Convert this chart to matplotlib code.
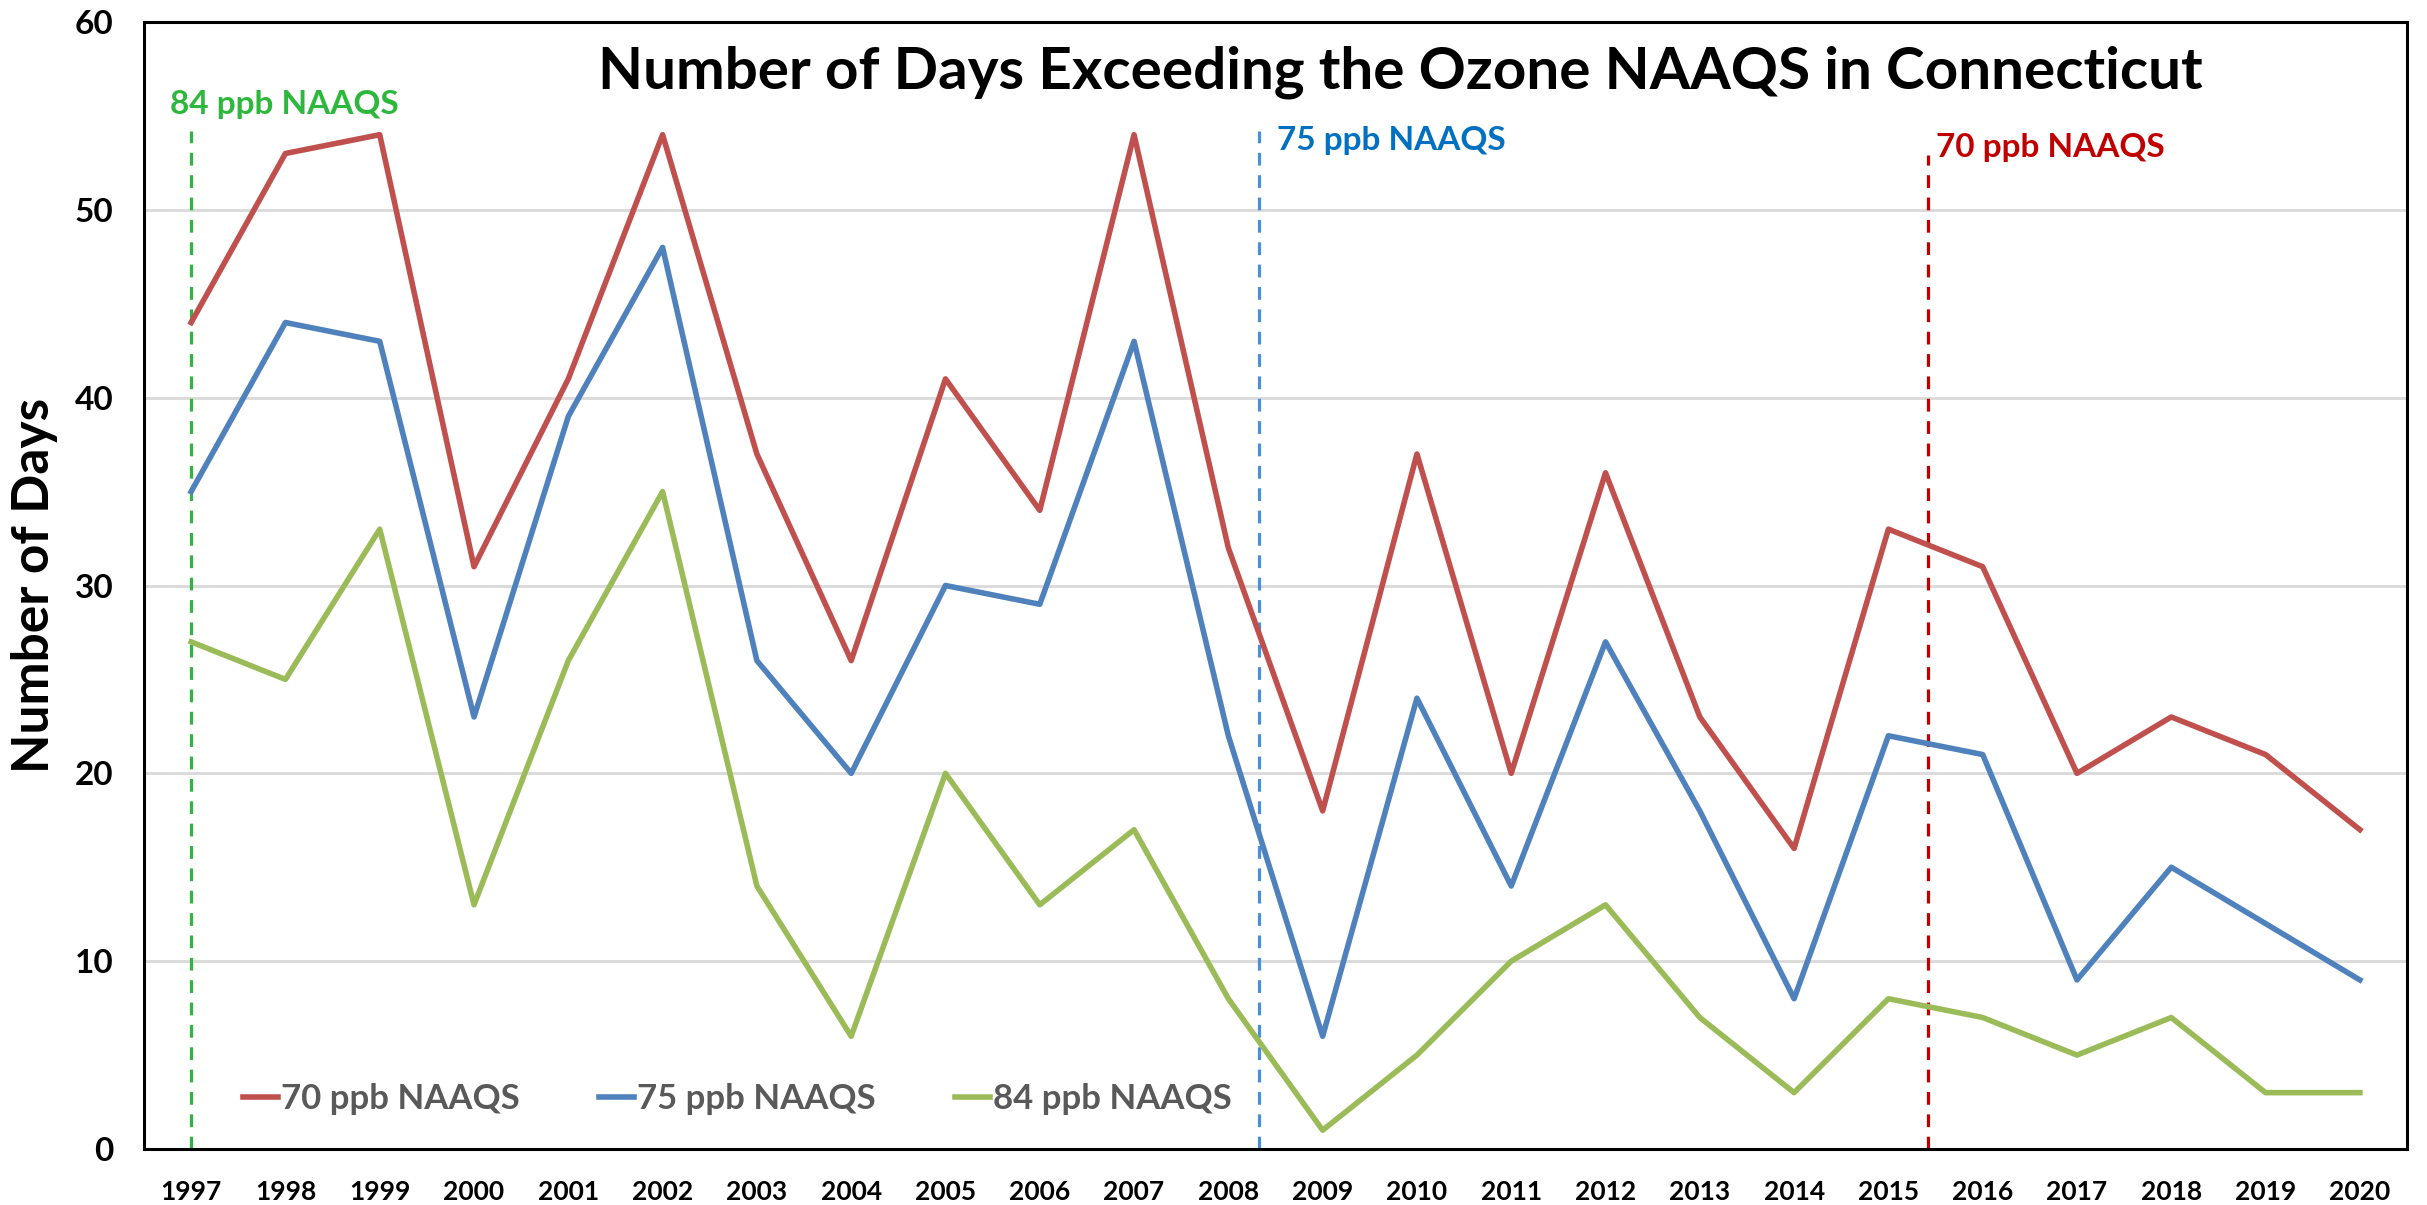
import matplotlib
matplotlib.use("Agg")
import matplotlib.pyplot as plt
import numpy as np

plt.rcParams.update({"font.family": ["Lato", "DejaVu Sans"], "font.weight": "bold"})

years = [str(y) for y in range(1997, 2021)]
naaqs70 = [44, 53, 54, 31, 41, 54, 37, 26, 41, 34, 54, 32, 18, 37, 20, 36, 23, 16, 33, 31, 20, 23, 21, 17]
naaqs75 = [35, 44, 43, 23, 39, 48, 26, 20, 30, 29, 43, 22, 6, 24, 14, 27, 18, 8, 22, 21, 9, 15, 12, 9]
naaqs84 = [27, 25, 33, 13, 26, 35, 14, 6, 20, 13, 17, 8, 1, 5, 10, 13, 7, 3, 8, 7, 5, 7, 3, 3]

# standard start markers (x in category index units, top of line, label)
std_pos = [0.0, 11.32, 18.42]
std_top = [54.2, 54.2, 52.9]
std_lab = ["84 ppb NAAQS", "75 ppb NAAQS", "70 ppb NAAQS"]
std_line_col = ["#2DB83D", "#4A8FDB", "#C00000"]
std_text_col = ["#2DB83D", "#0070C0", "#C00000"]

fig = plt.figure(figsize=(24.27, 12.05), dpi=100)
ax = fig.add_axes([144/2427, 1-1149/1205, (2407-144)/2427, (1149-22)/1205])

x = np.arange(len(years))
ax.plot(x, naaqs70, color="#C0504D", lw=4.0, label="70 ppb NAAQS", zorder=3)
ax.plot(x, naaqs75, color="#4F81BD", lw=4.0, label="75 ppb NAAQS", zorder=3)
ax.plot(x, naaqs84, color="#9BBB59", lw=4.0, label="84 ppb NAAQS", zorder=3)

for p, t, lc in zip(std_pos, std_top, std_line_col):
    ax.plot([p, p], [0, t], ls=(0, (4, 3)), lw=2.3, color=lc, zorder=2)
offs = [-0.22, 0.2, 0.08]
tys = [55.6, 53.7, 53.3]
for p, o, ty, lab, tc in zip(std_pos, offs, tys, std_lab, std_text_col):
    ax.text(p + o, ty, lab, color=tc, fontsize=24, fontweight="bold", ha="left", va="center")

ax.set_xlim(-0.5, len(years) - 0.5)
ax.set_ylim(0, 60)
ax.set_yticks(range(0, 61, 10))
ax.set_xticks(x)
ax.set_xticklabels(years)
ax.tick_params(axis="y", length=0, labelsize=24, pad=22)
ax.tick_params(axis="x", length=0, labelsize=19, pad=22)
for lbl in ax.get_xticklabels() + ax.get_yticklabels():
    lbl.set_fontweight("bold")
ax.yaxis.grid(True, color="#D9D9D9", lw=2)
ax.set_axisbelow(True)
for s in ax.spines.values():
    s.set_linewidth(2.2)
    s.set_color("black")

ax.set_ylabel("Number of Days", fontsize=37, fontweight="bold", labelpad=12)
ax.text(0.555, 0.955, "Number of Days Exceeding the Ozone NAAQS in Connecticut",
        transform=ax.transAxes, ha="center", va="center", fontsize=42, fontweight="bold")

leg = ax.legend(loc="lower left", bbox_to_anchor=(0.03, 0.002), ncol=3, frameon=False,
                fontsize=25, handlelength=1.0, handletextpad=0.08, columnspacing=2.3)
for t in leg.get_texts():
    t.set_color("#595959")
    t.set_fontweight("bold")

fig.savefig("out.png", dpi=100, facecolor="white")
